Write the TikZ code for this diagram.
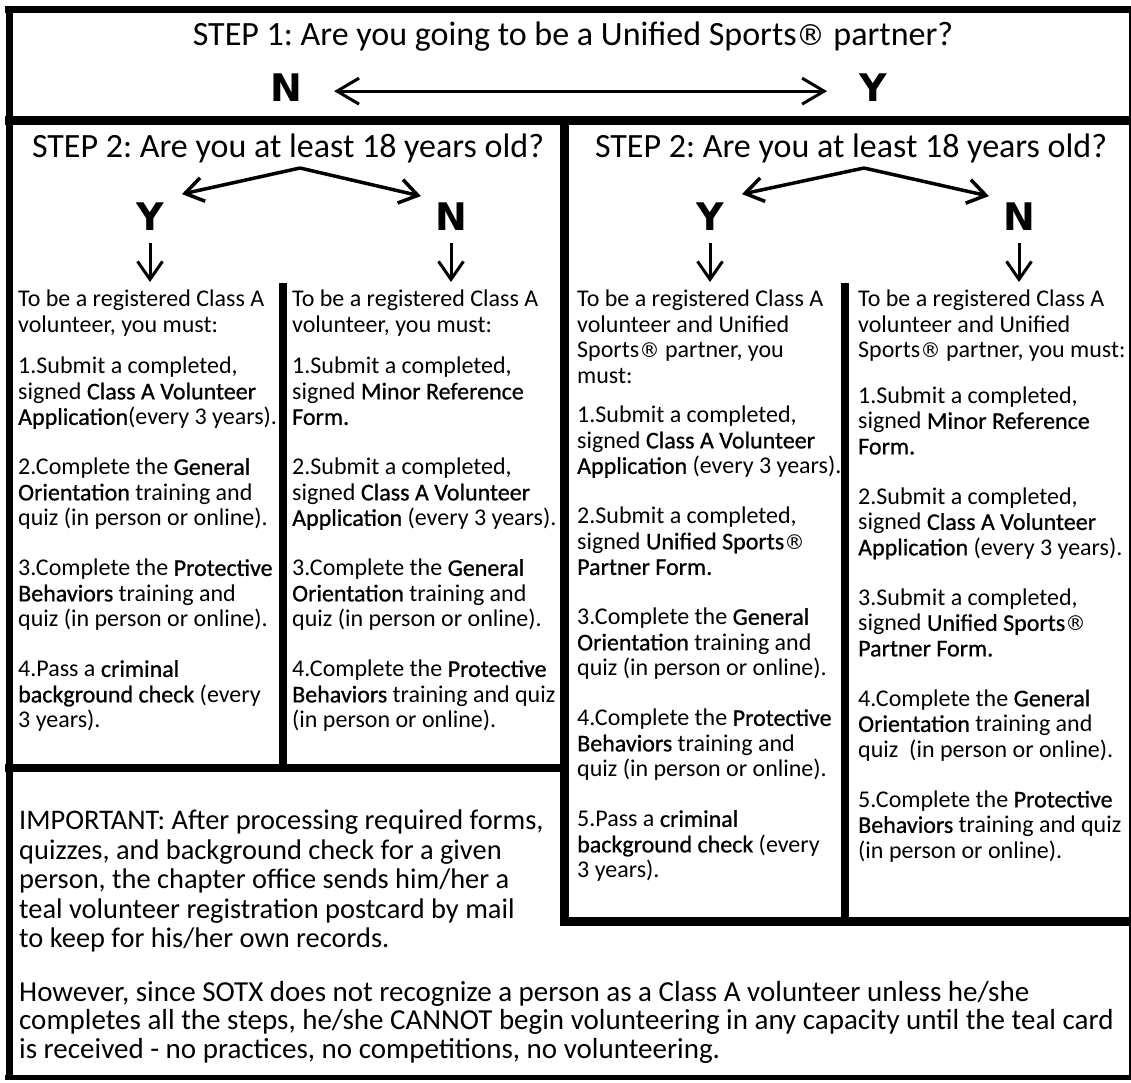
\documentclass[tikz,border=0pt]{standalone}
\usepackage{fontspec}
\setmainfont{Carlito}
\newfontfamily\kwfont{Carlito}[FakeBold=0.8]
\newfontfamily\ynfont{DejaVu Sans}
\usetikzlibrary{arrows.meta, positioning}
\newcommand{\kw}[1]{{\kwfont #1}}
\newcommand{\reg}{\scalebox{0.85}{\ynfont ®}}
\frenchspacing

\begin{document}
\begin{tikzpicture}[x=1pt, y=-1pt,
  frame/.style={line width=8pt},
  head/.style={font=\fontsize{34}{36}\selectfont, anchor=base, inner sep=0pt},
  yn/.style={font=\ynfont\bfseries\fontsize{38}{38}\selectfont, anchor=base, inner sep=2pt},
  body/.style={font=\fontsize{24}{25.5}\selectfont, align=left, anchor=north west, inner sep=0pt,
    execute at begin node={\rule{0pt}{20pt}}},
  note/.style={font=\fontsize{28.4}{29.5}\selectfont, align=left, anchor=north west, inner sep=0pt,
    execute at begin node={\rule{0pt}{24pt}}},
  dbl/.style={line width=3pt, {Straight Barb[length=22pt, width=26pt]}-{Straight Barb[length=22pt, width=26pt]}},
  fork/.style={line width=3.5pt, -{Straight Barb[length=18pt, width=24pt]}},
  down/.style={line width=3pt, -{Straight Barb[length=18pt, width=25pt]}}]

  \useasboundingbox (0,0) rectangle (1131,1082);

  \begin{scope}
    \draw[line width=7pt] (5,9.5) -- (1131,9.5);
    \draw[line width=7pt] (9,6) -- (9,1080);
    \draw[line width=5pt] (5,1077.5) -- (1131,1077.5);
    \draw[line width=2pt] (1129.5,9) -- (1129.5,1078);
    \draw[line width=9pt] (5,120) -- (1131,120);
    \draw[line width=9pt] (564.5,116) -- (564.5,926);
    \draw[frame] (283,283) -- (283,772);
    \draw[frame] (5,768) -- (569,768);
    \draw[frame] (845,283) -- (845,926);
    \draw[line width=9pt] (560,921.5) -- (1131,921.5);
  \end{scope}

  \node[head] (step1) at (573,45) {STEP 1: Are you going to be a Unified Sports\reg{} partner?};
  \node[yn] (n1) at (286,101) {N};
  \node[yn] (y1) at (873,101) {Y};
  \draw[dbl, shorten <=30pt, shorten >=30pt] ([yshift=-4pt]n1.east) -- ([yshift=-4pt]y1.west);

  \node[head] (askl) at (288,157) {STEP 2: Are you at least 18 years old?};
  \node[head] (askr) at (851,157) {STEP 2: Are you at least 18 years old?};

  \node[yn] (yl) at (150,230) {Y};
  \node[yn] (nl) at (451,230) {N};
  \node[yn] (yr) at (710,230) {Y};
  \node[yn] (nr) at (1019,230) {N};

  \coordinate (forkl) at (300,168);
  \coordinate (forkr) at (864,168);
  \draw[fork] (forkl) -- ([shift={(16,-6)}]yl.north east);
  \draw[fork] (forkl) -- ([shift={(-12,-4)}]nl.north west);
  \draw[fork] (forkr) -- ([shift={(16,-6)}]yr.north east);
  \draw[fork] (forkr) -- ([shift={(-12,-4)}]nr.north west);

  \node[body] (cola) at (18,290) {To be a registered Class A\\
    volunteer, you must:\\[16pt]
    1.Submit a completed,\\
    signed \kw{Class A Volunteer}\\
    \kw{Application}(every 3 years).\\[24.5pt]
    2.Complete the \kw{General}\\
    \kw{Orientation} training and\\
    quiz (in person or online).\\[24.5pt]
    3.Complete the \kw{Protective}\\
    \kw{Behaviors} training and\\
    quiz (in person or online).\\[24.5pt]
    4.Pass a \kw{criminal}\\
    \kw{background check} (every\\
    3 years).};

  \node[body] (colb) at (292,290) {To be a registered Class A\\
    volunteer, you must:\\[16pt]
    1.Submit a completed,\\
    signed \kw{Minor Reference}\\
    \kw{Form.}\\[24.5pt]
    2.Submit a completed,\\
    signed \kw{Class A Volunteer}\\
    \kw{Application} (every 3 years).\\[24.5pt]
    3.Complete the \kw{General}\\
    \kw{Orientation} training and\\
    quiz (in person or online).\\[24.5pt]
    4.Complete the \kw{Protective}\\
    \kw{Behaviors} training and quiz\\
    (in person or online).};

  \node[body] (colc) at (577,290) {To be a registered Class A\\
    volunteer and Unified\\
    Sports\reg{} partner, you\\
    must:\\[14pt]
    1.Submit a completed,\\
    signed \kw{Class A Volunteer}\\
    \kw{Application} (every 3 years).\\[24.5pt]
    2.Submit a completed,\\
    signed \kw{Unified Sports\reg}\\
    \kw{Partner Form.}\\[24.5pt]
    3.Complete the \kw{General}\\
    \kw{Orientation} training and\\
    quiz (in person or online).\\[24.5pt]
    4.Complete the \kw{Protective}\\
    \kw{Behaviors} training and\\
    quiz (in person or online).\\[24.5pt]
    5.Pass a \kw{criminal}\\
    \kw{background check} (every\\
    3 years).};

  \node[body] (cold) at (858,290) {To be a registered Class A\\
    volunteer and Unified\\
    Sports\reg{} partner, you must:\\[20pt]
    1.Submit a completed,\\
    signed \kw{Minor Reference}\\
    \kw{Form.}\\[24.5pt]
    2.Submit a completed,\\
    signed \kw{Class A Volunteer}\\
    \kw{Application} (every 3 years).\\[24.5pt]
    3.Submit a completed,\\
    signed \kw{Unified Sports\reg}\\
    \kw{Partner Form.}\\[24.5pt]
    4.Complete the \kw{General}\\
    \kw{Orientation} training and\\
    quiz~~(in person or online).\\[24.5pt]
    5.Complete the \kw{Protective}\\
    \kw{Behaviors} training and quiz\\
    (in person or online).};

  \draw[down, shorten <=11pt, shorten >=8pt] (yl.south) -- (yl.south |- cola.north);
  \draw[down, shorten <=11pt, shorten >=8pt] (nl.south) -- (nl.south |- colb.north);
  \draw[down, shorten <=11pt, shorten >=8pt] (yr.south) -- (yr.south |- colc.north);
  \draw[down, shorten <=11pt, shorten >=8pt] (nr.south) -- (nr.south |- cold.north);

  \node[note] (important) at (19,810) {IMPORTANT: After processing required forms,\\
    quizzes, and background check for a given\\
    person, the chapter office sends him/her a\\
    teal volunteer registration postcard by mail\\
    to keep for his/her own records.};

  \node[note, font=\fontsize{29}{28.5}\selectfont] (however) at (19,981) {However, since SOTX does not recognize a person as a Class A volunteer unless he/she\\
    completes all the steps, he/she CANNOT begin volunteering in any capacity until the teal card\\
    is received - no practices, no competitions, no volunteering.};

\end{tikzpicture}
\end{document}
